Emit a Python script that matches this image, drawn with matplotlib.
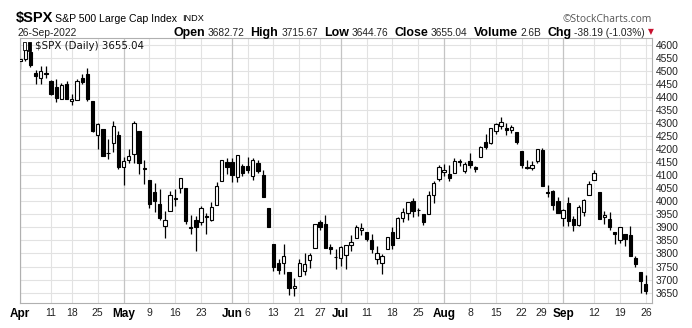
import matplotlib
matplotlib.use("Agg")
import matplotlib.pyplot as plt
import pandas as pd

# $SPX daily, 1-Apr-2022 .. 26-Sep-2022
dates = ["2022-04-01", "2022-04-04", "2022-04-05", "2022-04-06", "2022-04-07", "2022-04-08",
         "2022-04-11", "2022-04-12", "2022-04-13", "2022-04-14", "2022-04-18", "2022-04-19",
         "2022-04-20", "2022-04-21", "2022-04-22", "2022-04-25", "2022-04-26", "2022-04-27",
         "2022-04-28", "2022-04-29", "2022-05-02", "2022-05-03", "2022-05-04", "2022-05-05",
         "2022-05-06", "2022-05-09", "2022-05-10", "2022-05-11", "2022-05-12", "2022-05-13",
         "2022-05-16", "2022-05-17", "2022-05-18", "2022-05-19", "2022-05-20", "2022-05-23",
         "2022-05-24", "2022-05-25", "2022-05-26", "2022-05-27", "2022-05-31", "2022-06-01",
         "2022-06-02", "2022-06-03", "2022-06-06", "2022-06-07", "2022-06-08", "2022-06-09",
         "2022-06-10", "2022-06-13", "2022-06-14", "2022-06-15", "2022-06-16", "2022-06-17",
         "2022-06-21", "2022-06-22", "2022-06-23", "2022-06-24", "2022-06-27", "2022-06-28",
         "2022-06-29", "2022-06-30", "2022-07-01", "2022-07-05", "2022-07-06", "2022-07-07",
         "2022-07-08", "2022-07-11", "2022-07-12", "2022-07-13", "2022-07-14", "2022-07-15",
         "2022-07-18", "2022-07-19", "2022-07-20", "2022-07-21", "2022-07-22", "2022-07-25",
         "2022-07-26", "2022-07-27", "2022-07-28", "2022-07-29", "2022-08-01", "2022-08-02",
         "2022-08-03", "2022-08-04", "2022-08-05", "2022-08-08", "2022-08-09", "2022-08-10",
         "2022-08-11", "2022-08-12", "2022-08-15", "2022-08-16", "2022-08-17", "2022-08-18",
         "2022-08-19", "2022-08-22", "2022-08-23", "2022-08-24", "2022-08-25", "2022-08-26",
         "2022-08-29", "2022-08-30", "2022-08-31", "2022-09-01", "2022-09-02", "2022-09-06",
         "2022-09-07", "2022-09-08", "2022-09-09", "2022-09-12", "2022-09-13", "2022-09-14",
         "2022-09-15", "2022-09-16", "2022-09-19", "2022-09-20", "2022-09-21", "2022-09-22",
         "2022-09-23", "2022-09-26"]

opens = [4540.32, 4547.97, 4572.45, 4494.17, 4474.65, 4494.15, 4462.64, 4437.59, 4394.30, 4449.12,
         4385.63, 4390.63, 4472.26, 4489.17, 4385.83, 4255.34, 4278.14, 4186.52, 4222.58, 4253.75,
         4130.61, 4159.78, 4181.18, 4270.43, 4128.17, 4081.27, 4035.18, 3990.08, 3903.95, 3963.90,
         4013.02, 4052.00, 4051.98, 3899.00, 3927.76, 3919.42, 3942.94, 3929.59, 3984.60, 4077.43,
         4151.09, 4149.78, 4095.41, 4137.57, 4134.72, 4096.47, 4147.12, 4101.65, 3974.39, 3838.15,
         3763.52, 3764.05, 3728.18, 3665.90, 3715.31, 3733.89, 3774.71, 3821.75, 3920.76, 3913.00,
         3825.09, 3785.99, 3781.00, 3792.61, 3831.98, 3858.85, 3888.26, 3880.94, 3851.95, 3779.67,
         3763.99, 3818.00, 3883.79, 3860.73, 3935.32, 3955.47, 4000.36, 3965.72, 3953.22, 3951.43,
         4026.13, 4087.33, 4112.38, 4104.21, 4107.96, 4154.85, 4115.87, 4155.93, 4133.11, 4170.19,
         4227.40, 4225.02, 4269.37, 4290.46, 4280.40, 4273.13, 4266.31, 4195.08, 4133.09, 4126.55,
         4153.26, 4198.74, 4034.58, 4041.25, 4000.67, 3936.73, 3994.66, 3930.89, 3909.43, 3959.94,
         4022.94, 4083.67, 4037.12, 3940.73, 3932.41, 3880.95, 3849.91, 3875.23, 3871.40, 3782.36,
         3727.14, 3682.72]

highs = [4548.70, 4583.50, 4593.45, 4503.94, 4521.16, 4520.41, 4464.35, 4471.00, 4453.92, 4460.46,
         4410.31, 4471.03, 4488.29, 4512.94, 4385.83, 4299.02, 4278.14, 4240.71, 4308.45, 4269.68,
         4169.81, 4200.10, 4307.66, 4270.43, 4157.69, 4081.27, 4068.82, 4049.09, 3964.80, 4038.88,
         4046.46, 4090.72, 4051.98, 3945.96, 3943.42, 3981.88, 3955.68, 3999.33, 4075.14, 4158.49,
         4168.34, 4166.54, 4177.51, 4142.67, 4168.78, 4164.86, 4160.14, 4119.10, 3974.39, 3838.15,
         3778.18, 3837.56, 3728.18, 3707.71, 3779.65, 3801.79, 3802.58, 3913.65, 3927.72, 3945.86,
         3836.50, 3818.99, 3829.82, 3832.19, 3870.91, 3910.63, 3918.50, 3880.94, 3873.41, 3829.44,
         3796.41, 3863.62, 3902.44, 3939.81, 3974.13, 3999.29, 4012.44, 3975.30, 3953.22, 4039.56,
         4078.95, 4140.15, 4144.95, 4140.47, 4167.66, 4161.29, 4151.58, 4186.62, 4137.30, 4211.03,
         4257.91, 4280.47, 4301.79, 4325.28, 4302.18, 4292.53, 4266.31, 4195.08, 4159.77, 4156.56,
         4200.54, 4203.04, 4062.99, 4044.98, 4015.37, 3970.23, 4018.43, 3942.55, 3987.89, 4010.50,
         4076.81, 4119.28, 4037.12, 3961.94, 3959.14, 3880.95, 3900.45, 3876.01, 3907.07, 3790.78,
         3727.14, 3715.67]

lows = [4507.57, 4539.21, 4514.17, 4450.04, 4450.30, 4474.60, 4408.38, 4381.34, 4392.70, 4394.59,
        4370.30, 4390.63, 4448.76, 4384.47, 4267.62, 4200.82, 4175.04, 4162.90, 4188.63, 4124.28,
        4062.51, 4147.08, 4148.91, 4106.01, 4067.91, 3975.48, 3958.17, 3928.82, 3858.87, 3963.90,
        3983.99, 4033.93, 3911.91, 3876.58, 3810.32, 3909.04, 3875.13, 3925.03, 3984.60, 4077.43,
        4104.88, 4073.85, 4074.37, 4098.67, 4109.18, 4080.19, 4107.20, 4017.17, 3900.16, 3734.30,
        3722.30, 3722.30, 3639.77, 3636.87, 3715.31, 3717.69, 3743.52, 3821.75, 3889.66, 3820.14,
        3799.02, 3738.67, 3752.10, 3742.06, 3809.37, 3858.85, 3869.34, 3847.22, 3802.36, 3759.07,
        3721.56, 3817.18, 3818.63, 3860.73, 3922.03, 3927.64, 3938.24, 3943.46, 3910.74, 3951.43,
        3992.97, 4079.22, 4096.02, 4079.81, 4107.96, 4135.42, 4107.31, 4128.97, 4112.09, 4168.73,
        4201.41, 4219.78, 4256.90, 4277.77, 4253.08, 4261.98, 4218.70, 4129.86, 4124.03, 4119.97,
        4147.59, 4057.66, 4017.42, 3965.21, 3954.53, 3903.65, 3906.21, 3886.75, 3906.03, 3944.81,
        4022.94, 4083.67, 3932.41, 3912.15, 3888.28, 3837.08, 3838.50, 3827.54, 3789.49, 3749.45,
        3647.47, 3644.76]

closes = [4545.86, 4582.64, 4525.12, 4481.15, 4500.21, 4488.28, 4412.53, 4397.45, 4446.59, 4392.59,
          4391.69, 4462.21, 4459.45, 4393.66, 4271.78, 4296.12, 4175.20, 4183.96, 4287.50, 4131.93,
          4155.38, 4175.48, 4300.17, 4146.87, 4123.34, 3991.24, 4001.05, 3935.18, 3930.08, 4023.89,
          4008.01, 4088.85, 3923.68, 3900.79, 3901.36, 3973.75, 3941.48, 3978.73, 4057.84, 4158.24,
          4132.15, 4101.23, 4176.82, 4108.54, 4121.43, 4160.68, 4115.77, 4017.82, 3900.86, 3749.63,
          3735.48, 3789.99, 3666.77, 3674.84, 3764.79, 3759.89, 3795.73, 3911.74, 3900.11, 3821.55,
          3818.83, 3785.38, 3825.33, 3831.39, 3845.08, 3902.62, 3899.38, 3854.43, 3818.80, 3801.78,
          3790.38, 3863.16, 3830.85, 3936.69, 3959.90, 3998.95, 3961.63, 3966.84, 3921.05, 4023.61,
          4072.43, 4130.29, 4118.63, 4091.19, 4155.17, 4151.94, 4145.19, 4140.06, 4122.47, 4210.24,
          4207.27, 4280.15, 4297.14, 4305.20, 4274.04, 4283.74, 4228.48, 4137.99, 4128.73, 4140.77,
          4199.12, 4057.66, 4030.61, 3986.16, 3955.00, 3966.85, 3924.26, 3908.19, 3979.87, 4006.18,
          4067.36, 4110.41, 3932.69, 3946.01, 3901.35, 3873.33, 3899.89, 3855.93, 3789.93, 3757.99,
          3693.23, 3655.04]

month_dates = ["2022-04-01", "2022-05-02", "2022-06-01", "2022-07-01", "2022-08-01", "2022-09-01"]
month_labels = ["Apr", "May", "Jun", "Jul", "Aug", "Sep"]
week_dates = ["2022-04-11", "2022-04-18", "2022-04-25", "2022-05-09", "2022-05-16", "2022-05-23",
              "2022-06-06", "2022-06-13", "2022-06-21", "2022-06-27", "2022-07-11", "2022-07-18",
              "2022-07-25", "2022-08-08", "2022-08-15", "2022-08-22", "2022-08-29", "2022-09-12",
              "2022-09-19", "2022-09-26"]
week_labels = ["11", "18", "25", "9", "16", "23", "6", "13", "21", "27", "11", "18", "25",
               "8", "15", "22", "29", "12", "19", "26"]
price_ticks = list(range(3650, 4601, 50))

df = pd.DataFrame({"date": pd.to_datetime(dates), "open": opens, "high": highs,
                   "low": lows, "close": closes})
df["i"] = range(len(df))
pos = dict(zip(df["date"], df["i"]))

W, H = 692, 328
fig = plt.figure(figsize=(W / 100, H / 100), dpi=100)
ax = fig.add_axes([19.5 / W, 1 - 303 / H, 632 / W, 265 / H])

ax.set_xlim(-0.12, 122.1)
ax.set_ylim(3610, 4627)

# grid
for p in price_ticks:
    ax.axhline(p, color="#e2e2e2", lw=0.8, zorder=0)
for d in week_dates:
    ax.axvline(pos[pd.Timestamp(d)], color="#e2e2e2", lw=0.8, zorder=0)
for d in month_dates:
    ax.axvline(pos[pd.Timestamp(d)], color="#c4c4c4", lw=0.9, zorder=0)

# candles
up = df["close"] >= df["open"]
ax.vlines(df["i"], df["low"], df["high"], color="black", lw=0.9, zorder=2)
body = (df["close"] - df["open"]).abs().clip(lower=1.2)
bottom = df[["open", "close"]].min(axis=1)
ax.bar(df["i"], body, bottom=bottom, width=0.64,
       facecolor=["white" if u else "black" for u in up],
       edgecolor="black", linewidth=0.8, zorder=3)

# axes cosmetics
for s in ax.spines.values():
    s.set_color("#b0b0b0")
    s.set_linewidth(0.8)
ax.spines["bottom"].set_linestyle((0, (1, 1)))

ax.yaxis.tick_right()
ax.set_yticks(price_ticks)
ax.set_yticklabels([str(p) for p in price_ticks], fontsize=7.4, family="Liberation Sans",
                   color="#222222")
ax.tick_params(axis="y", length=0, pad=3)

xt = [pos[pd.Timestamp(d)] for d in month_dates] + [pos[pd.Timestamp(d)] for d in week_dates]
ax.set_xticks(xt)
ax.set_xticklabels(month_labels + week_labels, family="Liberation Sans", color="#222222")
for k, lab in enumerate(ax.get_xticklabels()):
    if k < len(month_labels):
        lab.set_fontweight("bold")
        lab.set_fontsize(8.5)
        lab.set_color("black")
    else:
        lab.set_fontsize(7.5)
        if lab.get_text() == "29":
            lab.set_horizontalalignment("right")
            lab.set_x(lab.get_position()[0] + 1.0)
ax.tick_params(axis="x", length=0, pad=3.5)

# legend inside the plot
ax.add_patch(plt.Rectangle((0.006, 0.955), 0.004, 0.03, transform=ax.transAxes,
                           facecolor="white", edgecolor="black", lw=0.6, zorder=5))
ax.add_patch(plt.Rectangle((0.013, 0.95), 0.005, 0.035, transform=ax.transAxes,
                           facecolor="black", edgecolor="black", lw=0.6, zorder=5))
ax.text(0.0245, 0.968, "$SPX (Daily) 3655.04", transform=ax.transAxes, fontsize=7.4,
        family="DejaVu Sans", va="center", ha="left", color="#111111", zorder=6)

# header
fig.text(16 / W, 1 - 18 / H, "$SPX", fontsize=10.5, fontweight="bold",
         family="Liberation Sans", va="center")
fig.text(55 / W, 1 - 18.5 / H, "S&P 500 Large Cap Index", fontsize=7.6,
         family="Liberation Sans", va="center")
fig.text(182 / W, 1 - 18.5 / H, "INDX", fontsize=6.6, family="Liberation Sans", va="center")
fig.text(17 / W, 1 - 33 / H, "26-Sep-2022", fontsize=7.4, family="Liberation Sans",
         va="center", color="#222222")
fig.text(652 / W, 1 - 19 / H, "\u00a9StockCharts.com", fontsize=7.4, family="Open Sans",
         va="center", ha="right", color="#555555")

segs = [("Open", True), ("3682.72", False), ("High", True), ("3715.67", False),
        ("Low", True), ("3644.76", False), ("Close", True), ("3655.04", False),
        ("Volume", True), ("2.6B", False), ("Chg", True), ("-38.19 (-1.03%)", False)]
fig.canvas.draw()
r = fig.canvas.get_renderer()
x = 173
for s, b in segs:
    t = fig.text(x / W, 1 - 33 / H, s, fontsize=8.9 if b else 7.3,
                 fontweight="bold" if b else "normal", family="Liberation Sans",
                 va="center", ha="left", color="black" if b else "#222222")
    x += t.get_window_extent(r).width + (3 if b else 6)
fig.text((x - 3) / W, 1 - 32 / H, "\u25bc", fontsize=5.5, color="#c8102e",
         family="DejaVu Sans", va="center", ha="left")

fig.savefig("out.png", dpi=100)
